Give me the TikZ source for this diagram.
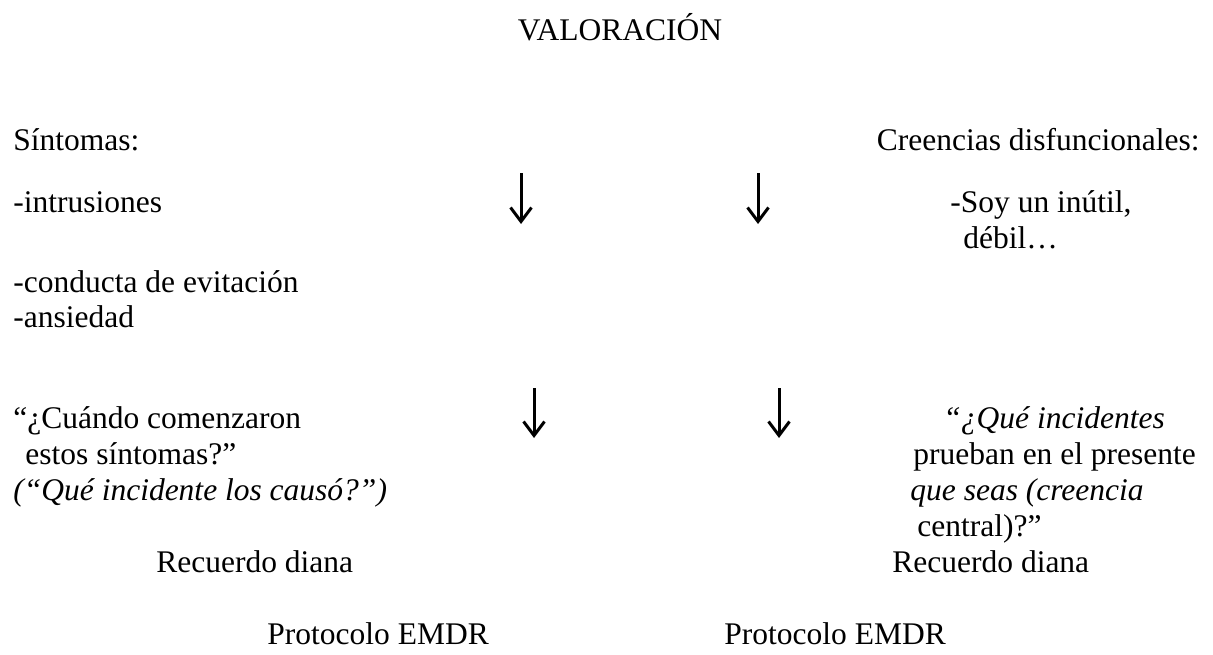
\documentclass[tikz,border=0pt]{standalone}
\usepackage{fontspec}
\setmainfont{Liberation Serif}
\usetikzlibrary{arrows.meta}
\begin{document}
\begin{tikzpicture}[x=0.5pt,y=-0.5pt,
  txt/.style={anchor=base west, inner sep=0pt, font=\fontsize{15.75}{18}\selectfont},
  flecha/.style={-{Straight Barb[length=7pt,width=10.5pt]}, line width=1.5pt, black}]
  \useasboundingbox (0,0) rectangle (1213,654);
  \node [txt, anchor=base] (titulo) at (620,40) {VALORACIÓN};
  % columna izquierda
  \node [txt] (sintomas) at (13,150) {Síntomas:};
  \node [txt] (intrus) at (13,212) {-intrusiones};
  \node [txt] (conducta) at (13,292) {-conducta de evitación};
  \node [txt] (ansiedad) at (13,327) {-ansiedad};
  \node [txt] (cuando) at (13,428) {“¿Cuándo comenzaron};
  \node [txt] (estos) at (25,464) {estos síntomas?”};
  \node [txt] (causo) at (13,500) {\itshape (“Qué incidente los causó?”)};
  \node [txt] (recuerdoL) at (156,572) {Recuerdo diana};
  \node [txt] (protocoloL) at (267,644) {Protocolo EMDR};
  % columna derecha
  \node [txt, anchor=base east] (creencias) at (1200,150) {Creencias disfuncionales:};
  \node [txt] (soy) at (950,212) {-Soy un inútil,};
  \node [txt] (debil) at (963,248) {débil…};
  \node [txt] (incid) at (943,428) {\itshape “¿Qué incidentes};
  \node [txt] (prueban) at (913,464) {prueban en el presente};
  \node [txt] (seas) at (910,500) {\itshape que seas (creencia};
  \node [txt] (central) at (917,536) {central)?”};
  \node [txt] (recuerdoR) at (892,572) {Recuerdo diana};
  \node [txt] (protocoloR) at (724,644) {Protocolo EMDR};
  % flechas
  \coordinate (a1) at (521,173); \coordinate (b1) at (521,224);
  \coordinate (a2) at (758,173); \coordinate (b2) at (758,224);
  \coordinate (a3) at (534,388); \coordinate (b3) at (534,438);
  \coordinate (a4) at (779,388); \coordinate (b4) at (779,438);
  \draw [flecha] (a1) -- (b1);
  \draw [flecha] (a2) -- (b2);
  \draw [flecha] (a3) -- (b3);
  \draw [flecha] (a4) -- (b4);
\end{tikzpicture}
\end{document}
